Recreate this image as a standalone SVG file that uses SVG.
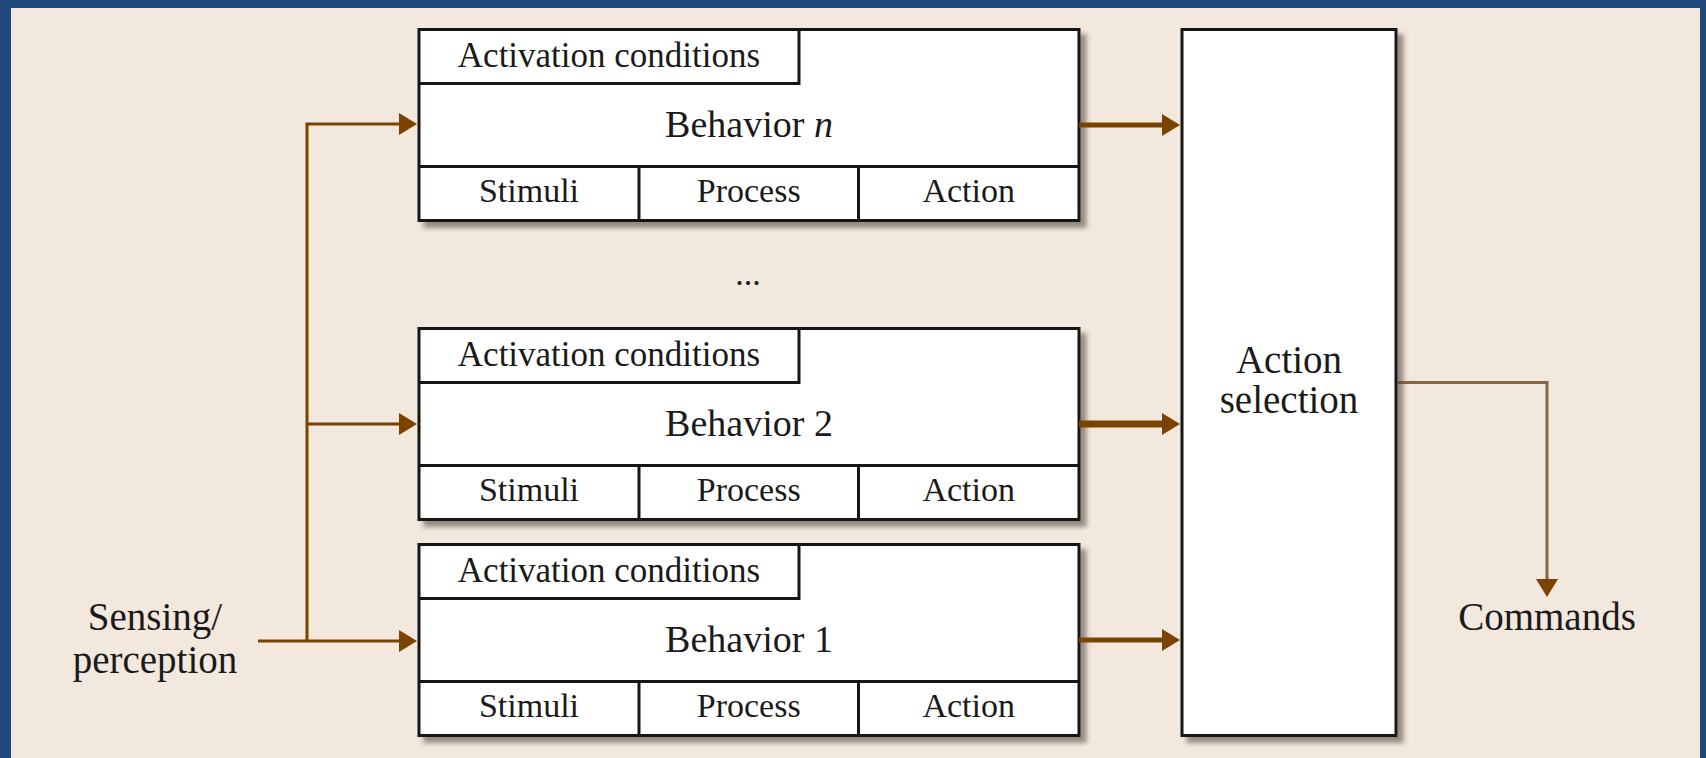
<svg xmlns="http://www.w3.org/2000/svg" width="1706" height="758" viewBox="0 0 1706 758">
<style>
.box{fill:#ffffff;stroke:#161616;stroke-width:3}
.ln{stroke:#161616;stroke-width:3;fill:none}
.t{font-family:"Liberation Serif","Times New Roman",serif;fill:#1a1a1a;text-anchor:middle}
.ac{font-size:35px}
.bh{font-size:38px}
.cell{font-size:34px}
.lbl{font-size:39px}
.arr{stroke:#7a4300;fill:none}
</style>
<defs>
<filter id="sh" x="-5%" y="-5%" width="115%" height="115%">
<feDropShadow dx="6" dy="6" stdDeviation="2.5" flood-color="#6e6458" flood-opacity="0.7"/>
</filter>
<marker id="ah" markerUnits="userSpaceOnUse" markerWidth="20" markerHeight="22" refX="2" refY="11" orient="auto">
<path d="M0,0 L18,11 L0,22 z" fill="#7a4300"/>
</marker>
</defs>
<rect x="0" y="0" width="1706" height="758" fill="#f2e8de"/>
<rect x="0" y="0" width="1706" height="8" fill="#1f487b"/>
<rect x="0" y="0" width="11" height="758" fill="#1f487b"/>
<rect x="1700" y="0" width="6" height="758" fill="#1f487b"/>

<g id="behavior-n">
<rect class="box" x="419" y="29.5" width="660" height="191" filter="url(#sh)"/>
<path class="ln" d="M419,83.5 H799 V29.5 M419,166.5 H1079 M639,166.5 V220.5 M858.5,166.5 V220.5"/>
<text class="t ac" x="609" y="67">Activation conditions</text>
<text class="t bh" x="749" y="136.5">Behavior <tspan font-style="italic">n</tspan></text>
<text class="t cell" x="529" y="201.5">Stimuli</text>
<text class="t cell" x="748.75" y="201.5">Process</text>
<text class="t cell" x="968.75" y="201.5">Action</text>
</g>

<g id="ellipsis">
<text class="t cell" x="748" y="285">...</text>
</g>

<g id="behavior-2">
<rect class="box" x="419" y="328.5" width="660" height="191" filter="url(#sh)"/>
<path class="ln" d="M419,382.5 H799 V328.5 M419,465.5 H1079 M639,465.5 V519.5 M858.5,465.5 V519.5"/>
<text class="t ac" x="609" y="366">Activation conditions</text>
<text class="t bh" x="749" y="435.5">Behavior 2</text>
<text class="t cell" x="529" y="500.5">Stimuli</text>
<text class="t cell" x="748.75" y="500.5">Process</text>
<text class="t cell" x="968.75" y="500.5">Action</text>
</g>

<g id="behavior-1">
<rect class="box" x="419" y="544.5" width="660" height="191" filter="url(#sh)"/>
<path class="ln" d="M419,598.5 H799 V544.5 M419,681.5 H1079 M639,681.5 V735.5 M858.5,681.5 V735.5"/>
<text class="t ac" x="609" y="582">Activation conditions</text>
<text class="t bh" x="749" y="651.5">Behavior 1</text>
<text class="t cell" x="529" y="716.5">Stimuli</text>
<text class="t cell" x="748.75" y="716.5">Process</text>
<text class="t cell" x="968.75" y="716.5">Action</text>
</g>

<g id="action-selection">
<rect class="box" x="1182" y="29.5" width="214" height="706" filter="url(#sh)"/>
<text class="t lbl" x="1289" y="373">Action</text>
<text class="t lbl" x="1289" y="413">selection</text>
</g>

<g id="sensing">
<text class="t lbl" x="155" y="630">Sensing/</text>
<text class="t lbl" x="155" y="673">perception</text>
</g>

<g id="commands">
<text class="t lbl" x="1547" y="630">Commands</text>
</g>

<g id="connectors">
<path class="arr" stroke-width="3" d="M258,641 H401" marker-end="url(#ah)"/>
<path class="arr" stroke-width="3" d="M307,641 V124 H401" marker-end="url(#ah)"/>
<path class="arr" stroke-width="3" d="M307,424 H401" marker-end="url(#ah)"/>
<path class="arr" stroke-width="5" d="M1079,125 H1164" marker-end="url(#ah)"/>
<path class="arr" stroke-width="7" d="M1079,424 H1164" marker-end="url(#ah)"/>
<path class="arr" stroke-width="5" d="M1079,640 H1164" marker-end="url(#ah)"/>
<path d="M1397.5,382.5 H1547 V581" fill="none" stroke="#6b4522" stroke-opacity="0.8" stroke-width="3" marker-end="url(#ah)"/>
</g>
</svg>
